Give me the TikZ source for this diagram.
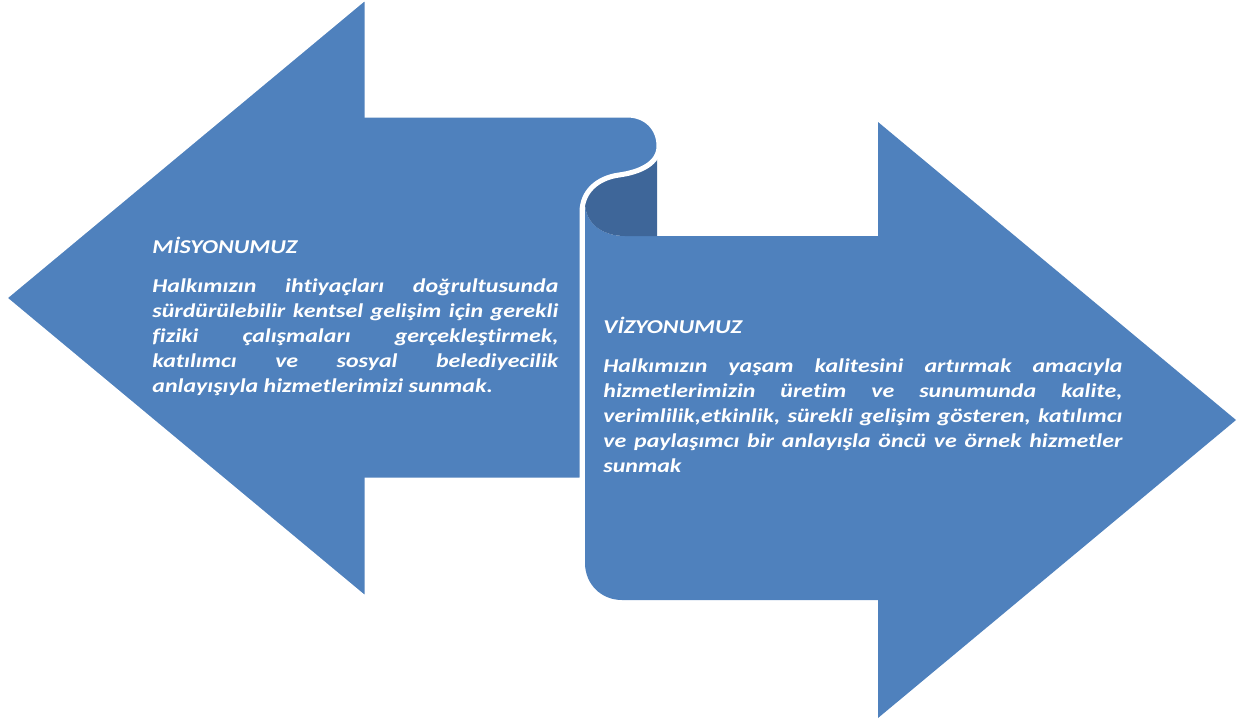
\documentclass[tikz,border=0pt]{standalone}
\usepackage{fontspec}
\setmainfont{Carlito}[FakeStretch=1.22, Ligatures=CommonOff]
\definecolor{arrowblue}{HTML}{4F81BD}
\definecolor{curldark}{RGB}{62,102,153}
\begin{document}
\begin{tikzpicture}[x=0.5pt,y=-0.5pt,
  leftarrow/.style={fill=arrowblue, draw=white, line width=2.5pt, line join=miter},
  rightarrow/.style={fill=arrowblue},
  curlback/.style={fill=curldark},
  headtxt/.style={font=\fontsize{9.8}{12.5}\selectfont\bfseries\itshape, text=white, inner sep=0pt},
  bodytxt/.style={font=\fontsize{9.8}{12.5}\selectfont\bfseries\itshape, text=white, inner sep=0pt, align=justify, anchor=north west}]
\useasboundingbox (0,0) rectangle (1242,724);
% right arrow (vision)
\path[rightarrow] (585,203) -- (585,563) .. controls (585,584) and (601,600) .. (622,600)
  -- (878,600) -- (878,718) -- (1236,420) -- (878,122) -- (878,236) -- (625,236)
  .. controls (601,236) and (585,222) .. (585,203) -- cycle;
% back side of the curl
\path[curlback] (657,140) -- (657,236) -- (625,236) .. controls (601,236) and (585,222) .. (585,203)
  -- (585,190) -- (620,165) -- (650,140) -- cycle;
% left arrow (mission)
\path[leftarrow] (4,298) -- (367,-4) -- (367,115) -- (627,115)
  .. controls (647,115) and (659,129) .. (659,146)
  .. controls (659,163) and (641,172) .. (619,175)
  .. controls (597,178) and (582,192) .. (582,212)
  -- (582,480) -- (367,480) -- (367,600) -- cycle;
% texts
\node[headtxt, anchor=base west] (mh) at (152,253) {MİSYONUMUZ};
\node[bodytxt, text width=203pt] (mb) at (152,274.5) {\strut Halkımızın ihtiyaçları doğrultusunda\linebreak
sürdürülebilir kentsel gelişim için gerekli\linebreak
fiziki çalışmaları gerçekleştirmek,\linebreak
katılımcı ve sosyal belediyecilik\linebreak
anlayışıyla hizmetlerimizi sunmak.};
\node[headtxt, anchor=base west] (vh) at (603,333) {VİZYONUMUZ};
\node[bodytxt, text width=259.5pt] (vb) at (603,354.5) {\strut Halkımızın yaşam kalitesini artırmak amacıyla\linebreak
hizmetlerimizin üretim ve sunumunda kalite,\linebreak
verimlilik,etkinlik, sürekli gelişim gösteren, katılımcı\linebreak
ve paylaşımcı bir anlayışla öncü ve örnek hizmetler\linebreak
sunmak};
\end{tikzpicture}
\end{document}
